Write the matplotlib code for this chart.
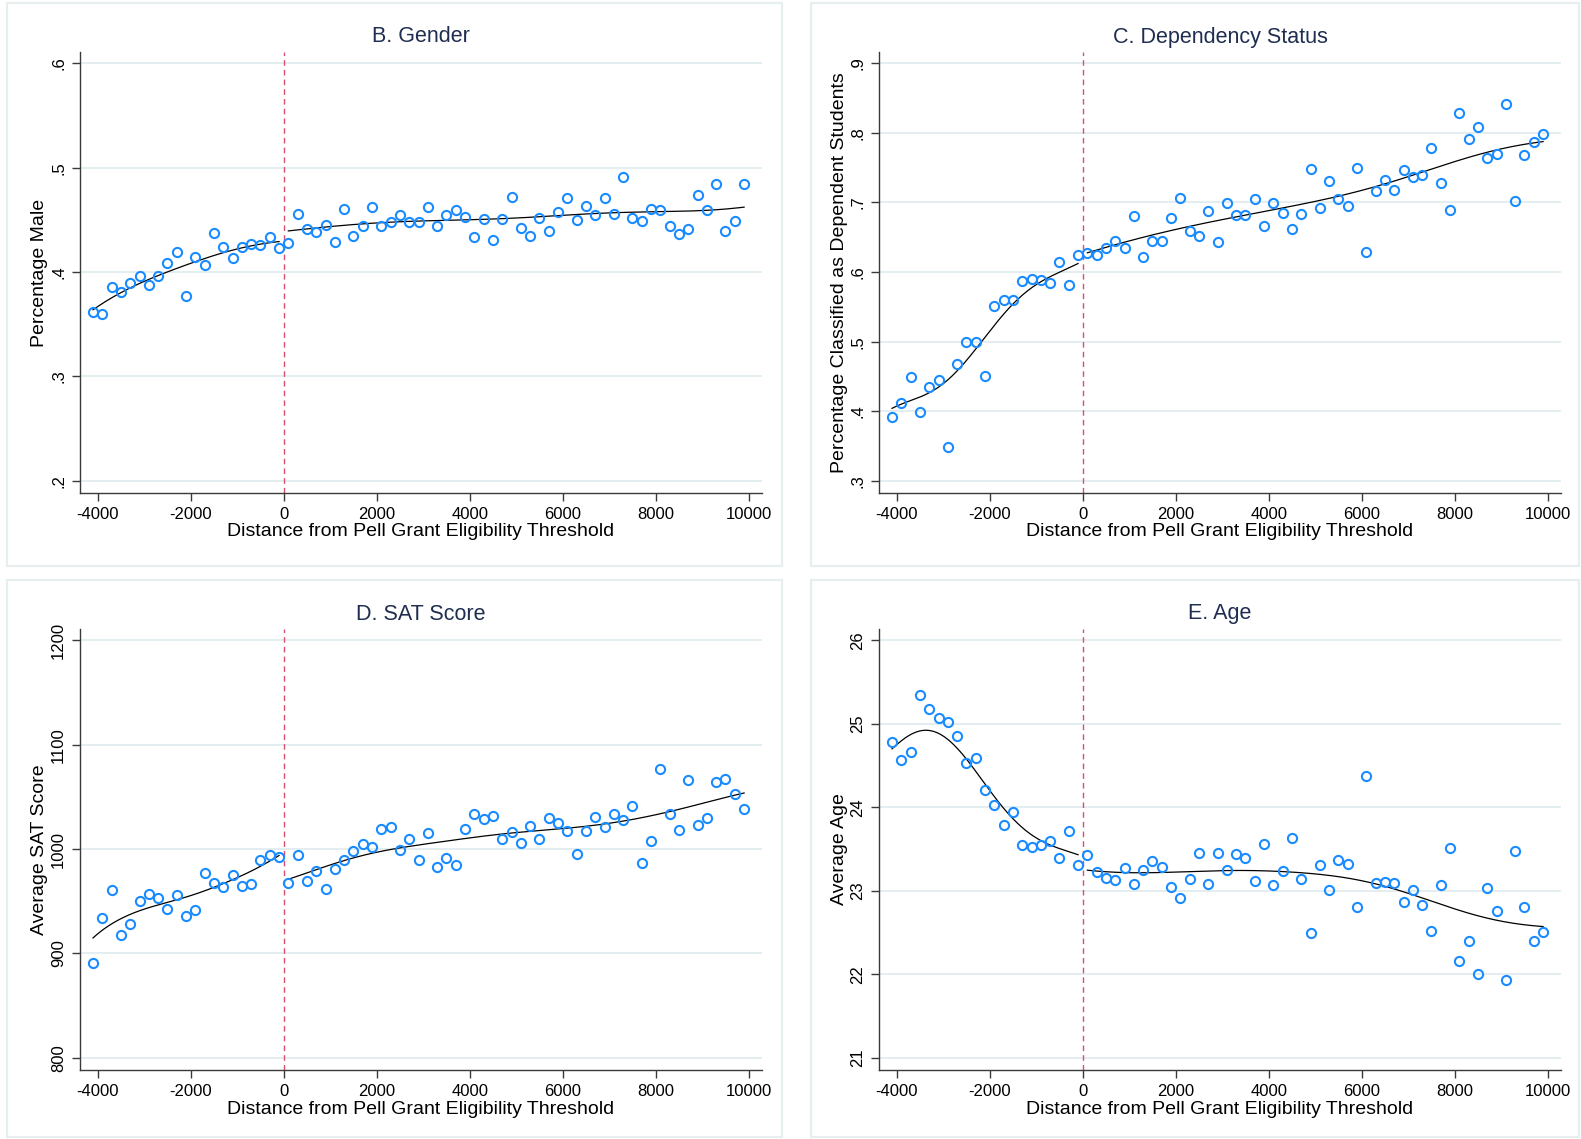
import numpy as np
import matplotlib
matplotlib.use("Agg")
import matplotlib.pyplot as plt
from matplotlib.patches import Rectangle

plt.rcParams['font.family'] = ['Liberation Sans', 'DejaVu Sans']

# ---------------- data ----------------
x_left = list(range(-4100, 0, 200))      # 21 bins below threshold
x_right = list(range(100, 10000, 200))   # 50 bins above threshold

gender_left = [0.3615, 0.3603, 0.3856, 0.3808, 0.3897, 0.3965, 0.3875, 0.3965, 0.4083, 0.4189,
               0.3772, 0.4147, 0.4071, 0.4378, 0.4244, 0.4131, 0.4244, 0.4269, 0.4263, 0.4333, 0.4234]
gender_right = [0.4282, 0.4561, 0.4410, 0.4381, 0.4449, 0.4292, 0.4609, 0.4349, 0.4442, 0.4622,
                0.4439, 0.4481, 0.4551, 0.4478, 0.4484, 0.4625, 0.4446, 0.4548, 0.4599, 0.4532,
                0.4337, 0.4510, 0.4308, 0.4506, 0.4718, 0.4423, 0.4343, 0.4519, 0.4397, 0.4577,
                0.4712, 0.4497, 0.4635, 0.4542, 0.4705, 0.4561, 0.4907, 0.4522, 0.4490, 0.4606,
                0.4599, 0.4439, 0.4365, 0.4417, 0.4737, 0.4599, 0.4843, 0.4391, 0.4494, 0.4840]

dep_left = [0.3912, 0.4118, 0.4488, 0.3984, 0.4349, 0.4449, 0.3494, 0.4685, 0.4997, 0.4997,
            0.4507, 0.5506, 0.5592, 0.5602, 0.5866, 0.5899, 0.5880, 0.5837, 0.6149, 0.5818, 0.6250]
dep_right = [0.6274, 0.6240, 0.6346, 0.6446, 0.6350, 0.6811, 0.6216, 0.6451, 0.6451, 0.6783,
             0.7061, 0.6590, 0.6514, 0.6875, 0.6438, 0.6986, 0.6813, 0.6813, 0.7043, 0.6663,
             0.6990, 0.6856, 0.6615, 0.6832, 0.7481, 0.6923, 0.7313, 0.7048, 0.6952, 0.7495,
             0.6293, 0.7168, 0.7327, 0.7183, 0.7471, 0.7365, 0.7394, 0.7788, 0.7274, 0.6899,
             0.8284, 0.7918, 0.8091, 0.7644, 0.7692, 0.8409, 0.7019, 0.7678, 0.7865, 0.7986]

sat_left = [890.7, 934.0, 960.9, 917.3, 928.2, 950.3, 956.7, 952.9, 942.9, 956.1,
            936.2, 941.7, 976.9, 967.3, 963.8, 975.0, 964.7, 967.0, 989.7, 994.6, 992.3]
sat_right = [967.6, 993.9, 969.2, 979.2, 961.9, 981.1, 989.4, 997.8, 1004.5, 1001.9,
             1019.2, 1021.5, 999.4, 1009.3, 989.7, 1015.1, 982.7, 991.0, 984.6, 1019.2,
             1034.0, 1028.5, 1031.7, 1009.3, 1016.0, 1005.8, 1022.4, 1009.6, 1029.5, 1025.0,
             1017.6, 994.9, 1017.6, 1030.4, 1020.8, 1034.0, 1028.2, 1041.0, 986.2, 1008.0,
             1076.6, 1034.0, 1018.3, 1066.0, 1023.4, 1029.5, 1064.7, 1067.0, 1052.6, 1038.5]

age_left = [24.784, 24.568, 24.664, 25.348, 25.176, 25.068, 25.016, 24.852, 24.536, 24.596,
            24.208, 24.032, 23.792, 23.948, 23.548, 23.524, 23.548, 23.592, 23.392, 23.720, 23.304]
age_right = [23.432, 23.228, 23.156, 23.124, 23.276, 23.076, 23.252, 23.360, 23.280, 23.048,
             22.916, 23.144, 23.452, 23.080, 23.448, 23.244, 23.436, 23.388, 23.112, 23.560,
             23.072, 23.240, 23.628, 23.140, 22.500, 23.304, 23.008, 23.372, 23.324, 22.804,
             24.376, 23.096, 23.104, 23.088, 22.864, 23.016, 22.836, 22.524, 23.068, 23.508,
             22.164, 22.404, 22.000, 23.032, 22.760, 21.932, 23.476, 22.804, 22.400, 22.512]

x_ticks = [-4000, -2000, 0, 2000, 4000, 6000, 8000, 10000]
x_ticklabels = ['-4000', '-2000', '0', '2000', '4000', '6000', '8000', '10000']

titles = ['B. Gender', 'C. Dependency Status', 'D. SAT Score', 'E. Age']
ylabels = ['Percentage Male', 'Percentage Classified as Dependent Students',
           'Average SAT Score', 'Average Age']
y_ticks = [[0.2, 0.3, 0.4, 0.5, 0.6],
           [0.3, 0.4, 0.5, 0.6, 0.7, 0.8, 0.9],
           [800, 900, 1000, 1100, 1200],
           [21, 22, 23, 24, 25, 26]]
y_ticklabels = [['.2', '.3', '.4', '.5', '.6'],
                ['.3', '.4', '.5', '.6', '.7', '.8', '.9'],
                ['800', '900', '1000', '1100', '1200'],
                ['21', '22', '23', '24', '25', '26']]
xlabel = 'Distance from Pell Grant Eligibility Threshold'

series = [(gender_left, gender_right), (dep_left, dep_right),
          (sat_left, sat_right), (age_left, age_right)]
# kernel bandwidths (gaussian sd) for the local linear smoother, left / right side
bandwidth = [(800, 1500), (600, 1400), (700, 1200), (600, 1350)]


def local_linear(xs, ys, grid, h):
    xs = np.asarray(xs, float)
    ys = np.asarray(ys, float)
    out = np.empty_like(grid)
    for k, g in enumerate(grid):
        w = np.exp(-0.5 * ((xs - g) / h) ** 2)
        d = xs - g
        s0, s1, s2 = w.sum(), (w * d).sum(), (w * d * d).sum()
        t0, t1 = (w * ys).sum(), (w * d * ys).sum()
        out[k] = (s2 * t0 - s1 * t1) / (s0 * s2 - s1 * s1)
    return out


# ---------------- layout ----------------
W, H = 1581, 1139
fig = plt.figure(figsize=(W / 100, H / 100), dpi=100)
fig.patch.set_facecolor('white')

MARK = '#1a8cff'
TITLE_C = '#1f2d50'
GRID_C = '#e4edf0'
BORDER_C = '#e6eef0'
VLINE_C = '#d6506f'

# panel geometry in pixels: box (left, top, right, bottom), axes (left, top, right, bottom)
panels = [
    ((7, 3, 782, 566), (80, 52, 762, 493)),
    ((811, 3, 1579, 566), (879, 52, 1561, 493)),
    ((7, 580, 782, 1137), (80, 629, 762, 1070)),
    ((811, 580, 1579, 1137), (879, 629, 1561, 1070)),
]


def fx(px):
    return px / W


def fy(py):
    return 1 - py / H


for i in range(4):
    box, axp = panels[i]
    fig.patches.append(Rectangle((fx(box[0]), fy(box[3])), fx(box[2] - box[0]), (box[3] - box[1]) / H,
                                 transform=fig.transFigure, fill=False, edgecolor=BORDER_C, lw=1.6))
    l, t, r, b = axp
    ax = fig.add_axes([fx(l), fy(b), fx(r - l), (b - t) / H])
    yl, yr = series[i]
    yt = y_ticks[i]
    span = yt[-1] - yt[0]
    ax.set_ylim(yt[0] - 0.029 * span, yt[-1] + 0.027 * span)
    ax.set_xlim(-4380, 10285)
    for s in ['top', 'right']:
        ax.spines[s].set_visible(False)
    for s in ['left', 'bottom']:
        ax.spines[s].set_color('#3a3a3a')
        ax.spines[s].set_linewidth(1.0)
    ax.set_yticks(yt)
    ax.set_yticklabels(y_ticklabels[i], rotation=90, va='center')
    ax.set_xticks(x_ticks)
    ax.set_xticklabels(x_ticklabels)
    ax.tick_params(axis='y', length=6, width=1, color='#3a3a3a', pad=4, labelsize=12)
    ax.tick_params(axis='x', length=6, width=1, color='#3a3a3a', pad=4, labelsize=12)
    for g in yt:
        ax.axhline(g, color=GRID_C, lw=1.4, zorder=0)
    ax.axvline(0, color=VLINE_C, lw=1.0, ls=(0, (4, 3)), zorder=1)

    # smoothed fits on each side of the threshold
    for xs, ys, h in ((x_left, yl, bandwidth[i][0]), (x_right, yr, bandwidth[i][1])):
        grid = np.linspace(xs[0], xs[-1], 200)
        ax.plot(grid, local_linear(xs, ys, grid, h), color='black', lw=0.9, zorder=2)

    ax.plot(x_left, yl, 'o', ms=6.6, mfc='none', mec=MARK, mew=1.5, zorder=3)
    ax.plot(x_right, yr, 'o', ms=6.6, mfc='none', mec=MARK, mew=1.5, zorder=3)

    cx = (l + r) / 2
    fig.text(fx(cx), fy(t - 15), titles[i], ha='center', va='center', fontsize=15.5, color=TITLE_C)
    fig.text(fx(cx), fy(b + 39), xlabel, ha='center', va='center', fontsize=14, color='black')
    fig.text(fx(l - 40), fy((t + b) / 2), ylabels[i], ha='center', va='center', rotation=90,
             fontsize=14, color='black')

fig.savefig('out.png', dpi=100, facecolor='white')
